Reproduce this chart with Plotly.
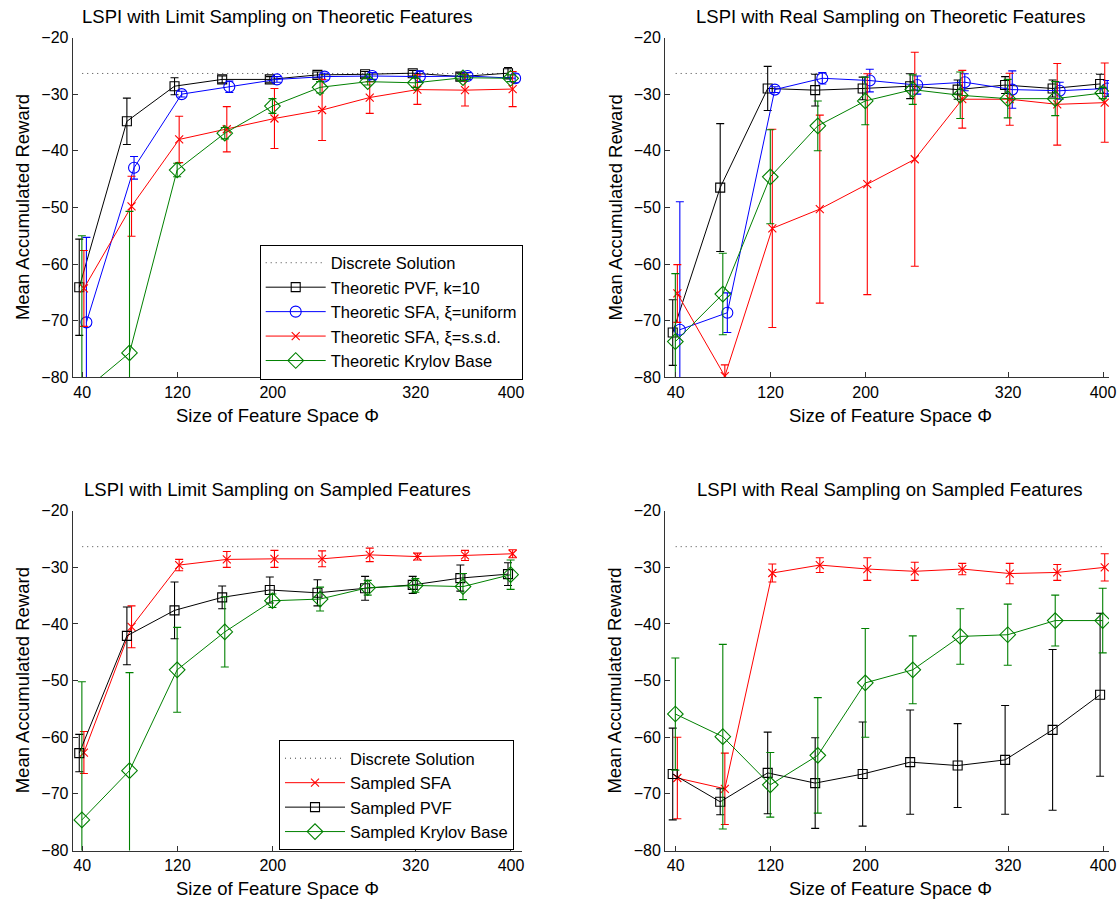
import plotly.graph_objects as go

# ---------------- data ----------------
X = [40, 80, 120, 160, 200, 240, 280, 320, 360, 400]
x_ticks = [40, 120, 200, 320, 400]
y_ticks = [-80, -70, -60, -50, -40, -30, -20]
discrete = [-26.35] * 10

# Panel 1: LSPI with Limit Sampling on Theoretic Features
pvf1 = [-64.1, -34.8, -28.6, -27.4, -27.4, -26.6, -26.5, -26.3, -26.9, -26.3]
pvf1_err = [8.5, 4.1, 1.5, 0.6, 0.5, 0.5, 0.5, 0.5, 0.6, 1.0]
sfau1 = [-70.3, -43.0, -30.0, -28.7, -27.4, -26.9, -26.8, -26.9, -26.8, -27.2]
sfau1_err = [15.0, 2.0, 0.5, 1.0, 0.5, 0.6, 0.6, 1.0, 0.6, 0.8]
sfas1 = [-64.3, -49.8, -38.0, -36.2, -34.3, -32.8, -30.6, -29.2, -29.3, -29.1]
sfas1_err = [6.7, 5.3, 4.1, 4.0, 5.3, 5.4, 2.8, 2.6, 2.8, 3.1]
kry1 = [-82.7, -75.7, -43.4, -36.9, -32.1, -28.8, -27.8, -28.0, -27.1, -27.2]
kry1_err = [27.7, 25.0, 1.2, 1.0, 1.3, 1.0, 0.6, 0.8, 0.5, 0.6]

# Panel 2: LSPI with Real Sampling on Theoretic Features
pvf2 = [-72.1, -46.5, -29.0, -29.3, -29.0, -28.6, -29.2, -28.4, -29.0, -28.2]
pvf2_err = [5.8, 11.3, 3.9, 2.8, 2.0, 2.2, 1.7, 1.5, 1.5, 1.7]
sfau2 = [-71.6, -68.6, -29.2, -27.2, -27.6, -28.4, -27.9, -29.2, -29.4, -29.0]
sfau2_err = [22.6, 3.5, 0.5, 1.0, 2.0, 1.6, 1.5, 3.3, 1.5, 1.4]
sfas2 = [-65.2, -79.8, -53.7, -50.3, -45.9, -41.5, -30.9, -30.9, -31.8, -31.5]
sfas2_err = [5.1, 2.0, 17.5, 16.6, 19.5, 18.9, 5.1, 4.6, 7.2, 7.0]
kry2 = [-73.7, -65.3, -44.6, -35.6, -31.2, -29.2, -30.2, -30.8, -30.8, -29.8]
kry2_err = [12.0, 7.2, 8.3, 4.4, 4.2, 2.6, 4.1, 3.4, 3.0, 1.0]

# Panel 3: LSPI with Limit Sampling on Sampled Features
sfa3 = [-62.7, -40.5, -29.6, -28.6, -28.5, -28.5, -27.8, -28.1, -27.9, -27.6]
sfa3_err = [3.7, 3.7, 1.0, 1.4, 1.5, 1.4, 1.2, 0.6, 0.9, 0.7]
pvf3 = [-62.8, -42.1, -37.6, -35.3, -34.0, -34.5, -33.7, -33.1, -31.9, -31.2]
pvf3_err = [3.3, 5.1, 5.0, 2.0, 2.3, 2.3, 2.1, 1.5, 2.3, 2.0]
kry3 = [-74.6, -65.9, -48.1, -41.4, -35.9, -35.6, -33.6, -33.2, -33.4, -31.3]
kry3_err = [24.4, 17.3, 7.5, 6.2, 1.2, 2.1, 1.3, 1.2, 2.3, 2.6]

# Panel 4: LSPI with Real Sampling on Sampled Features
sfa4 = [-67.2, -69.1, -31.0, -29.6, -30.3, -30.7, -30.3, -31.1, -30.9, -30.0]
sfa4_err = [7.2, 6.3, 1.6, 1.3, 2.0, 1.6, 1.0, 1.8, 1.4, 2.4]
pvf4 = [-66.5, -71.4, -66.3, -68.1, -66.5, -64.4, -65.0, -64.0, -58.7, -52.5]
pvf4_err = [8.1, 2.3, 7.2, 8.0, 9.2, 9.2, 7.4, 9.6, 14.2, 14.4]
kry4 = [-55.9, -59.9, -68.4, -63.2, -50.4, -48.1, -42.2, -41.9, -39.4, -39.4]
kry4_err = [9.9, 16.3, 5.7, 10.2, 9.6, 6.0, 4.9, 5.4, 4.5, 5.7]

titles = [
    "LSPI with Limit Sampling on Theoretic Features",
    "LSPI with Real Sampling on Theoretic Features",
    "LSPI with Limit Sampling on Sampled Features",
    "LSPI with Real Sampling on Sampled Features",
]
x_label = "Size of Feature Space \u03a6"
y_label = "Mean Accumulated Reward"

# ---------------- styles ----------------
W, H = 1120, 900
FONT = "Liberation Sans, Arial, Helvetica, sans-serif"
BLACK, BLUE, RED, GREEN = "#000000", "#0000ff", "#ff0000", "#008000"
style = {
    "pvf": dict(color=BLACK, symbol="square-open", size=9, off=-2.5),
    "sfau": dict(color=BLUE, symbol="circle-open", size=11, off=3.5),
    "sfas": dict(color=RED, symbol="x-thin-open", size=8, off=1.4),
    "kry": dict(color=GREEN, symbol="diamond-open", size=12, off=-0.3),
}

# panel pixel boxes: (left, right, top, bottom)
boxes = [
    (72.7, 521.7, 37.5, 377.3),
    (665.0, 1109.0, 37.5, 377.3),
    (72.7, 521.7, 510.7, 850.5),
    (665.0, 1109.0, 510.7, 850.5),
]
xranges = [[32, 409], [31, 405], [32, 409], [31, 405]]
title_cx = [277, 890, 277, 890]

fig = go.Figure()


def add_series(i, key, y, err, name, legend=None):
    s = style[key]
    ax = "" if i == 0 else str(i + 1)
    fig.add_trace(go.Scatter(
        x=[v + s["off"] for v in X], y=y, name=name,
        mode="lines+markers",
        line=dict(color=s["color"], width=1),
        marker=dict(symbol=s["symbol"], size=s["size"], color=s["color"],
                    line=dict(color=s["color"], width=1.1)),
        error_y=dict(type="data", array=err, visible=True, color=s["color"],
                     thickness=1.1, width=4),
        xaxis="x" + ax, yaxis="y" + ax,
        showlegend=legend is not None,
        legend=legend if legend else "legend",
    ))


def add_discrete(i, legend=None):
    ax = "" if i == 0 else str(i + 1)
    fig.add_trace(go.Scatter(
        x=X, y=discrete, name="Discrete Solution", mode="lines",
        line=dict(color="#444444", width=1, dash="1px,4px"),
        xaxis="x" + ax, yaxis="y" + ax,
        showlegend=legend is not None,
        legend=legend if legend else "legend",
    ))


# Panel 1
add_discrete(0, "legend")
add_series(0, "pvf", pvf1, pvf1_err, "Theoretic PVF, k=10", "legend")
add_series(0, "sfau", sfau1, sfau1_err, "Theoretic SFA, \u03be=uniform", "legend")
add_series(0, "sfas", sfas1, sfas1_err, "Theoretic SFA, \u03be=s.s.d.", "legend")
add_series(0, "kry", kry1, kry1_err, "Theoretic Krylov Base", "legend")
# Panel 2
add_discrete(1)
add_series(1, "pvf", pvf2, pvf2_err, "Theoretic PVF, k=10")
add_series(1, "sfau", sfau2, sfau2_err, "Theoretic SFA, \u03be=uniform")
add_series(1, "sfas", sfas2, sfas2_err, "Theoretic SFA, \u03be=s.s.d.")
add_series(1, "kry", kry2, kry2_err, "Theoretic Krylov Base")
# Panel 3
add_discrete(2, "legend2")
add_series(2, "sfas", sfa3, sfa3_err, "Sampled SFA", "legend2")
add_series(2, "pvf", pvf3, pvf3_err, "Sampled PVF", "legend2")
add_series(2, "kry", kry3, kry3_err, "Sampled Krylov Base", "legend2")
# Panel 4
add_discrete(3)
add_series(3, "sfas", sfa4, sfa4_err, "Sampled SFA")
add_series(3, "pvf", pvf4, pvf4_err, "Sampled PVF")
add_series(3, "kry", kry4, kry4_err, "Sampled Krylov Base")

layout = dict(
    width=W, height=H, margin=dict(l=0, r=0, t=0, b=0, autoexpand=False),
    paper_bgcolor="white", plot_bgcolor="white",
    font=dict(family=FONT, size=16, color="#000000"),
)
annotations = []
for i, (l, r, t, b) in enumerate(boxes):
    ax = "" if i == 0 else str(i + 1)
    layout["xaxis" + ax] = dict(
        domain=[l / W, r / W], range=xranges[i], anchor="y" + ax,
        automargin=False,
        tickmode="array", tickvals=x_ticks, ticks="inside", ticklen=5,
        tickcolor="#333333", showline=True, linecolor="#333333", linewidth=1,
        showgrid=False, zeroline=False, mirror=False,
        tickfont=dict(size=16, family=FONT, color="#000000"),
    )
    layout["yaxis" + ax] = dict(
        domain=[1 - b / H, 1 - t / H], range=[-80, -20], anchor="x" + ax,
        automargin=False,
        tickmode="array", tickvals=y_ticks, ticks="inside", ticklen=5,
        tickcolor="#333333", showline=True, linecolor="#333333", linewidth=1,
        showgrid=False, zeroline=False, mirror=False,
        tickfont=dict(size=16, family=FONT, color="#000000"),
    )
    annotations.append(dict(
        text=titles[i], x=title_cx[i] / W, y=1 - (t - 21.5) / H,
        xref="paper", yref="paper", xanchor="center", yanchor="middle",
        showarrow=False, font=dict(size=18.5, family=FONT, color="#000000")))
    annotations.append(dict(
        text=x_label, x=title_cx[i] / W, y=1 - (b + 38) / H,
        xref="paper", yref="paper", xanchor="center", yanchor="middle",
        showarrow=False, font=dict(size=18.5, family=FONT, color="#000000")))
    annotations.append(dict(
        text=y_label, x=(l - 50) / W, y=1 - ((t + b) / 2) / H,
        xref="paper", yref="paper", xanchor="center", yanchor="middle",
        textangle=-90, showarrow=False,
        font=dict(size=18.5, family=FONT, color="#000000")))
layout["annotations"] = annotations

legend_common = dict(
    bgcolor="white", bordercolor="#000000", borderwidth=1,
    font=dict(size=16.5, family=FONT, color="#000000"),
    itemwidth=60, tracegroupgap=0, traceorder="normal",
    xanchor="right", yanchor="middle",
)
layout["legend"] = dict(legend_common, x=522.7 / W, y=1 - 312.0 / H)
layout["legend2"] = dict(legend_common, x=514 / W, y=1 - 795.0 / H)

fig.update_layout(**layout)
fig.write_html("out.html",
               config={"displayModeBar": False},
               post_script="document.body.style.margin='0px';")
